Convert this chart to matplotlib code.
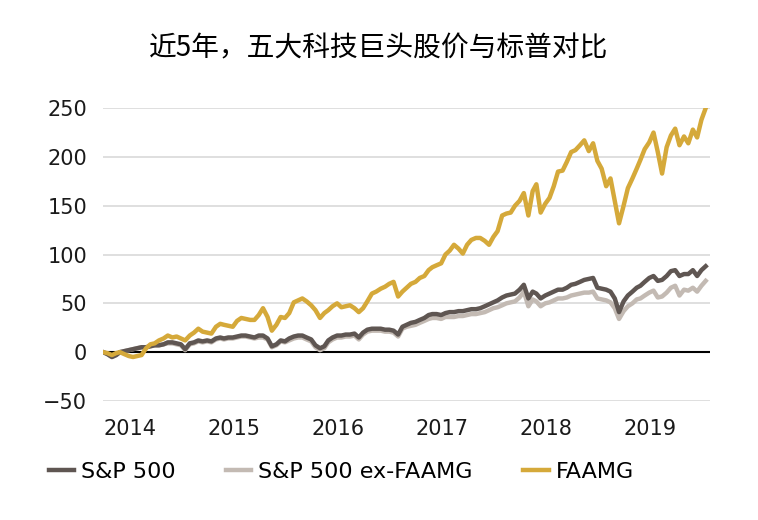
import pandas as pd
import matplotlib.pyplot as plt
import matplotlib.dates as mdates

plt.rcParams['font.family'] = ['DejaVu Sans']

title = '近5年，五大科技巨头股价与标普对比'
labels = ['S&P 500', 'S&P 500 ex-FAAMG', 'FAAMG']
colors = ['#5f5652', '#c3bab3', '#d5a93a']

# twice a month (1st and 16th), Jan 2014 .. mid Oct 2019, % change since start
dates = [d + pd.Timedelta(days=off)
         for d in pd.date_range('2014-01-01', '2019-10-01', freq='MS')
         for off in (0, 15)]

faamg = [0, -1, -3, -1, 0, -2, -4, -5, -4, -3, 4, 8, 9, 12, 14, 17, 15, 16, 14, 12, 17, 20, 24, 21,
         20, 19, 26, 29, 28, 27, 26, 32, 35, 34, 33, 33, 38, 45, 36, 22, 28, 36, 35, 40, 51, 53, 55, 52,
         48, 43, 35, 40, 43, 47, 50, 46, 47, 48, 45, 41, 45, 52, 60, 62, 65, 67, 70, 72, 57, 62, 66, 70,
         72, 76, 78, 84, 87, 89, 91, 100, 104, 110, 106, 101, 110, 115, 117, 117, 114, 110, 118, 124, 140, 142, 143, 150,
         155, 163, 140, 165, 172, 143, 152, 158, 170, 185, 186, 195, 205, 207, 212, 217, 206, 214, 196, 188, 170, 178, 155, 132,
         150, 168, 178, 188, 197, 208, 215, 225, 205, 183, 210, 222, 229, 212, 221, 214, 228, 220, 238, 250]

sp500 = [0, -2, -5, -3, 0, 1, 2, 3, 4, 5, 5, 6, 7, 7, 8, 10, 10, 9, 8, 3, 9, 10, 12, 11,
         12, 11, 14, 15, 14, 15, 15, 16, 17, 17, 16, 15, 17, 17, 14, 6, 8, 12, 11, 14, 16, 17, 17, 15,
         13, 7, 4, 6, 12, 15, 17, 17, 18, 18, 19, 15, 20, 23, 24, 24, 24, 23, 23, 22, 18, 26, 28, 30,
         31, 33, 35, 38, 39, 39, 38, 40, 41, 41, 42, 42, 43, 44, 44, 45, 47, 49, 51, 53, 56, 58, 59, 60,
         64, 69, 55, 62, 60, 55, 58, 60, 62, 64, 64, 66, 69, 70, 72, 74, 75, 76, 66, 65, 64, 62, 55, 41,
         52, 58, 62, 66, 68, 72, 76, 78, 73, 74, 78, 83, 84, 78, 80, 80, 84, 78, 84, 88]

sp500_ex = [0, -2, -5, -3, 0, 1, 2, 3, 4, 5, 5, 6, 7, 7, 8, 9, 9, 8, 7, 2, 8, 9, 11, 10,
            11, 10, 13, 14, 13, 14, 14, 15, 16, 16, 15, 14, 15, 15, 13, 5, 7, 11, 10, 12, 14, 15, 15, 13,
            11, 5, 2, 4, 10, 13, 15, 15, 16, 16, 17, 13, 18, 21, 22, 22, 22, 21, 21, 20, 16, 24, 26, 27,
            28, 30, 32, 34, 35, 35, 34, 36, 36, 36, 37, 37, 38, 39, 39, 40, 41, 43, 45, 46, 48, 50, 51, 52,
            56, 62, 47, 54, 52, 47, 50, 51, 53, 55, 55, 56, 58, 59, 60, 61, 61, 62, 55, 54, 53, 51, 45, 34,
            42, 47, 50, 54, 55, 58, 61, 63, 56, 57, 61, 66, 68, 58, 64, 63, 66, 62, 68, 73]

fig = plt.figure(figsize=(7.58, 5.20), dpi=100)
ax = fig.add_axes([0.136, 0.229, 0.801, 0.563])

for y in range(-50, 251, 50):
    ax.axhline(y, color='#d6d6d6', lw=1.1, zorder=0)
ax.axhline(0, color='black', lw=1.5, zorder=1)

ax.plot(dates, sp500_ex, color=colors[1], lw=3.2, label=labels[1], zorder=2)
ax.plot(dates, sp500, color=colors[0], lw=3.2, label=labels[0], zorder=3)
ax.plot(dates, faamg, color=colors[2], lw=3.2, label=labels[2], zorder=4)

ax.set_ylim(-50, 250)
ax.set_yticks(range(-50, 251, 50))
ax.set_yticklabels(['\u221250', '0', '50', '100', '150', '200', '250'])
ax.set_xlim(pd.Timestamp('2014-01-01'), pd.Timestamp('2019-11-01'))
ax.xaxis.set_major_locator(mdates.YearLocator())
ax.xaxis.set_major_formatter(mdates.DateFormatter('%Y'))
for t in ax.get_xticklabels():
    t.set_horizontalalignment('left')
ax.tick_params(axis='both', length=0, labelsize=15, colors='#1a1a1a')
ax.tick_params(axis='y', pad=11.5)
ax.tick_params(axis='x', pad=13)
for s in ax.spines.values():
    s.set_visible(False)

fig.text(0.5, 0.907, title, ha='center', va='center', fontsize=20,
         family=['Noto Sans CJK SC', 'DejaVu Sans'])

handles, labs = ax.get_legend_handles_labels()
order = [1, 0, 2]
fig.legend([handles[i] for i in order], [labs[i] for i in order],
           loc='center left', bbox_to_anchor=(0.064, 0.092), ncol=3,
           frameon=False, fontsize=16, handlelength=1.15, handletextpad=0.32,
           columnspacing=2.25, borderpad=0, borderaxespad=0)

fig.savefig('out.png', dpi=100)
